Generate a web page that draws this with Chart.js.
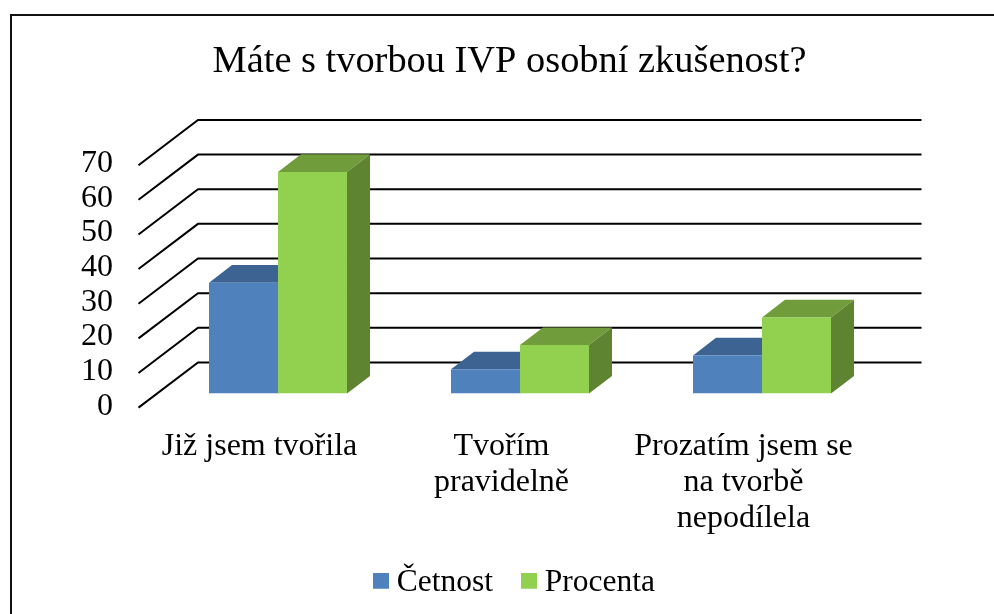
<!DOCTYPE html>
<html lang="cs">
<head>
<meta charset="utf-8">
<title>Máte s tvorbou IVP osobní zkušenost?</title>
<style>
    html, body { margin: 0; padding: 0; background: #fff; overflow: hidden; }
    canvas { display: block; }
</style>
<script src="https://cdn.jsdelivr.net/npm/chart.js"></script>
</head>
<body>
<canvas id="chart" width="994" height="614"></canvas>
<script>
// chart data
const categories = [
    ["Již jsem tvořila"],
    ["Tvořím", "pravidelně"],
    ["Prozatím jsem se", "na tvorbě", "nepodílela"],
];
const cetnost = [32, 7, 11];
const procenta = [64, 14, 22];
const seriesNames = ["Četnost", "Procenta"];

const FONT = '"Liberation Serif", "Times New Roman", serif';

// bar colours: front, top, side
const blue = { front: "#4f81bd", top: "#3d6392", side: "#385d8a" };
const green = { front: "#92d050", top: "#709c3c", side: "#5f8431" };

// 3d offsets, relative to the plane the bars stand on
const BAR_DEPTH = { x: 23, y: 17.7 };
const WALL = { back: -31.2, front: 14, frontX: 138.5, backX: 198, endX: 921.5 };

// legend swatch, drawn as a point style so the gap to the text stays tight
// (blank strip at the bottom lifts the square a little against the text)
function makeSwatch(color) {
    const swatch = document.createElement("canvas");
    swatch.width = 16;
    swatch.height = 20;
    const c = swatch.getContext("2d");
    c.fillStyle = color;
    c.fillRect(0, 0, 16, 16);
    return swatch;
}
const swatches = [makeSwatch(blue.front), makeSwatch(green.front)];

function poly(ctx, color, points) {
    ctx.fillStyle = color;
    ctx.beginPath();
    points.forEach((p, i) => (i ? ctx.lineTo(p[0], p[1]) : ctx.moveTo(p[0], p[1])));
    ctx.closePath();
    ctx.fill();
}

// page frame, only the top and left edges are in the picture
const framePlugin = {
    id: "frame",
    beforeDraw(chart) {
        const ctx = chart.ctx;
        ctx.save();
        ctx.fillStyle = "#111";
        ctx.fillRect(10, 14, chart.width - 10, 2);
        ctx.fillRect(10, 14, 2, chart.height - 14);
        ctx.restore();
    },
};

const layoutFixPlugin = {
    id: "layoutFix",
    afterLayout(chart) {
        // legend sits a bit off centre in the original
        const legend = chart.legend;
        legend.left += 8.5;
        legend.right += 8.5;
        legend.top = 583 - 16 - legend.options.labels.padding;
        // tick labels are clipped to the scale box, so widen it to the left
        chart.scales.y.left = 60;
    },
};

// back wall lines, the floor diagonals and the top/side faces of the bars
const depthPlugin = {
    id: "depth",
    beforeDatasetsDraw(chart) {
        const ctx = chart.ctx;
        const yScale = chart.scales.y;

        ctx.save();
        ctx.strokeStyle = "#000";
        ctx.lineWidth = 2;
        yScale.ticks.forEach((tick) => {
            const y = yScale.getPixelForValue(tick.value);
            ctx.beginPath();
            ctx.moveTo(WALL.frontX, y + WALL.front);
            ctx.lineTo(WALL.backX, y + WALL.back);
            ctx.lineTo(WALL.endX, y + WALL.back);
            ctx.stroke();
        });

        [blue, green].forEach((colors, i) => {
            chart.getDatasetMeta(i).data.forEach((bar) => {
                const left = bar.x - bar.width / 2;
                const right = bar.x + bar.width / 2;
                const dx = BAR_DEPTH.x;
                const dy = BAR_DEPTH.y;
                poly(ctx, colors.top, [
                    [left, bar.y], [left + dx, bar.y - dy], [right + dx, bar.y - dy], [right, bar.y],
                ]);
                poly(ctx, colors.side, [
                    [right, bar.y], [right + dx, bar.y - dy], [right + dx, bar.base - dy], [right, bar.base],
                ]);
            });
        });
        ctx.restore();
    },
};

new Chart(document.getElementById("chart"), {
    type: "bar",
    data: {
        labels: categories,
        datasets: [
            { label: seriesNames[0], data: cetnost, backgroundColor: blue.front },
            { label: seriesNames[1], data: procenta, backgroundColor: green.front },
        ],
    },
    plugins: [framePlugin, layoutFixPlugin, depthPlugin],
    options: {
        responsive: false,
        animation: false,
        layout: { padding: { left: 136, right: 111, top: 0, bottom: 0 } },
        datasets: { bar: { barPercentage: 1, categoryPercentage: 0.5702 } },
        scales: {
            x: {
                grid: { display: false, drawTicks: false },
                border: { display: false },
                ticks: {
                    color: "#000",
                    font: { family: FONT, size: 32, lineHeight: 1.125 },
                    padding: 35,
                    labelOffset: -18.5,
                    maxRotation: 0,
                    autoSkip: false,
                },
                afterFit(scale) { scale.height = 142.9; },
            },
            y: {
                min: 0,
                max: 70,
                grid: { display: false, drawTicks: false },
                border: { display: false },
                ticks: {
                    stepSize: 10,
                    autoSkip: false,
                    color: "#000",
                    font: { family: FONT, size: 32, lineHeight: 1 },
                    padding: 44,
                    labelOffset: 12.5,
                },
                afterFit(scale) { scale.width = 21; },
            },
        },
        plugins: {
            title: {
                display: true,
                text: "Máte s tvorbou IVP osobní zkušenost?",
                color: "#000",
                font: { family: FONT, size: 38.4, weight: "normal", lineHeight: 1.2 },
                padding: { top: 39, bottom: 66.1 },
            },
            legend: {
                position: "bottom",
                labels: {
                    color: "#000",
                    font: { family: FONT, size: 31.5 },
                    usePointStyle: true,
                    boxWidth: 0.01,
                    padding: 36,
                    generateLabels(chart) {
                        const items = Chart.defaults.plugins.legend.labels.generateLabels(chart);
                        items.forEach((item, i) => { item.pointStyle = swatches[i]; });
                        return items;
                    },
                },
            },
            tooltip: { enabled: false },
        },
    },
});
</script>
</body>
</html>
